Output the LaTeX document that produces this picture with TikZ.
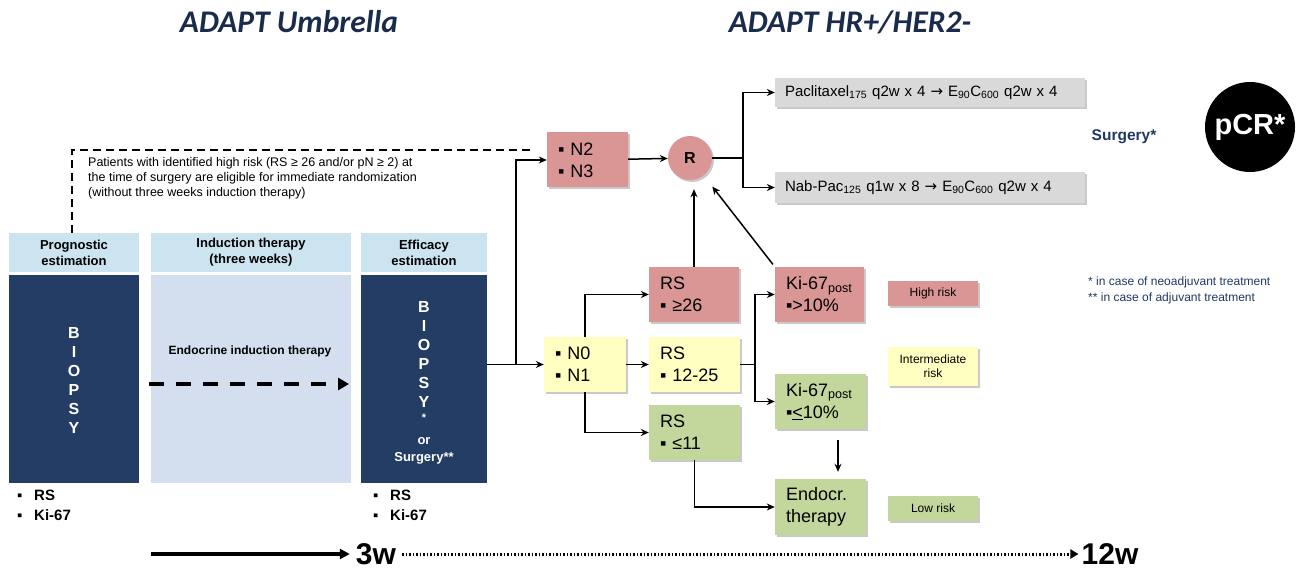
\documentclass[tikz,border=0pt]{standalone}
\usepackage{fontspec}
\setmainfont{Liberation Sans}
\newfontfamily\titlefont{Carlito}
\newfontfamily\symfont{DejaVu Sans}
\usepackage{tikz}
\usetikzlibrary{arrows.meta,shadows}
\definecolor{navybox}{RGB}{36,61,100}
\definecolor{headblue}{RGB}{204,228,240}
\definecolor{indblue}{RGB}{211,223,238}
\definecolor{riskhigh}{RGB}{217,150,148}
\definecolor{riskmid}{RGB}{255,255,194}
\definecolor{risklow}{RGB}{195,214,155}
\definecolor{armgray}{RGB}{217,217,217}
\definecolor{titlenavy}{RGB}{27,43,75}
\definecolor{textnavy}{RGB}{31,56,100}
\tikzset{
  boxshadow/.style = {drop shadow={shadow xshift=2pt, shadow yshift=-2pt,
                      opacity=0.3, fill=black!70}},
  flowbox/.style   = {shape=rectangle, align=left, text width=68pt,
                      inner xsep=11pt, inner ysep=0pt, minimum height=55pt,
                      font=\fontsize{18}{22}\selectfont, boxshadow},
  highbox/.style   = {flowbox, fill=riskhigh},
  midbox/.style    = {flowbox, fill=riskmid},
  lowbox/.style    = {flowbox, fill=risklow},
  armbox/.style    = {flowbox, fill=armgray, text width=290pt, inner xsep=10pt,
                      font=\fontsize{15}{18}\selectfont},
  legend/.style    = {shape=rectangle, align=center, minimum width=90pt,
                      minimum height=25pt, inner sep=0pt,
                      font=\fontsize{12}{14}\selectfont, boxshadow},
  headbox/.style   = {shape=rectangle, fill=headblue, align=center,
                      minimum height=39pt, inner sep=0pt,
                      font=\bfseries\fontsize{13}{16}\selectfont},
  phasebox/.style  = {shape=rectangle, minimum height=208pt, inner sep=0pt},
  letters/.style   = {align=center, text=white, inner sep=0pt,
                      font=\bfseries\fontsize{16}{19}\selectfont},
  smallwhite/.style= {text=white, inner sep=0pt,
                      font=\bfseries\fontsize{13}{15}\selectfont},
  marks/.style     = {align=left, inner sep=0pt, anchor=west,
                      font=\bfseries\fontsize{15}{20}\selectfont},
  title/.style     = {text=titlenavy, font=\titlefont\bfseries\itshape\fontsize{31.5}{36}\selectfont},
  weeks/.style     = {inner sep=0pt, font=\bfseries\fontsize{30}{34}\selectfont},
  link/.style      = {-{Stealth[length=8pt,width=7pt]}, line width=1.5pt},
  wire/.style      = {line width=1.5pt},
  fastlane/.style  = {line width=1.6pt, dash pattern=on 8pt off 5pt},
  indarrow/.style  = {-{Triangle[length=11pt,width=12pt]}, line width=4pt,
                      dash pattern=on 15pt off 12pt},
  timeline/.style  = {-{Triangle[length=10pt,width=10pt]}, line width=4pt},
  dotline/.style   = {-{Triangle[length=8pt,width=9pt]}, line width=3pt,
                      dash pattern=on 1.5pt off 2pt}
}
\begin{document}
\begin{tikzpicture}[x=1pt, y=-1pt]
  \useasboundingbox (0,0) rectangle (1303,572);

  \node[title] (umbrella) at (289,22) {ADAPT Umbrella};
  \node[title] (hrher) at (850,22) {ADAPT HR+/HER2-};

  \node[headbox, minimum width=130pt] (proghead) at (74,252.5) {Prognostic\\estimation};
  \node[headbox, minimum width=200pt] (indhead) at (251,252.5) {Induction therapy\\(three weeks)};
  \node[headbox, minimum width=126pt] (effhead) at (424,252.5) {Efficacy\\estimation};
  \node[phasebox, fill=navybox, minimum width=130pt] (progbody) at (74,379) {};
  \node[phasebox, fill=indblue, minimum width=200pt] (indbody) at (251,379) {};
  \node[phasebox, fill=navybox, minimum width=126pt] (effbody) at (424,379) {};

  \node[letters] (progletters) at (74,380) {B\\I\\O\\P\\S\\Y};
  \node[letters] (effletters) at (424,354) {B\\I\\O\\P\\S\\Y};
  \node[smallwhite, font=\bfseries\fontsize{11}{13}\selectfont] (effstar) at (424,418) {*};
  \node[smallwhite, anchor=base] (effor) at (424,444) {or};
  \node[smallwhite, anchor=base] (effsurg) at (424,461) {Surgery**};

  \node[font=\bfseries\fontsize{12}{14}\selectfont] (indtext) at (250,351) {Endocrine induction therapy};
  \coordinate (indstart) at (149,384);
  \coordinate (indend) at (349,384);
  \draw[indarrow] (indstart) -- (indend);

  \node[marks] (progmarks) at (17,505) {\makebox[17pt][l]{▪}RS\\\makebox[17pt][l]{▪}Ki-67};
  \node[marks] (effmarks) at (373,505) {\makebox[17pt][l]{▪}RS\\\makebox[17pt][l]{▪}Ki-67};

  \node[anchor=west, align=left, inner sep=0pt, font=\fontsize{12.5}{15}\selectfont] (eligible) at (88,178)
    {Patients with identified high risk (RS ≥ 26 and/or pN ≥ 2) at\\
     the time of surgery are eligible for immediate randomization\\
     (without three weeks induction therapy)};

  \node[highbox, text width=59pt] (n2) at (587.5,160) {▪ N2\\▪ N3};
  \node[circle, fill=riskhigh, minimum size=44pt, inner sep=0pt, boxshadow,
        font=\bfseries\fontsize{16}{18}\selectfont] (r) at (690,158) {R};
  \node[armbox, minimum height=29pt] (pac) at (930,92.5)
    {Paclitaxel\textsubscript{175} q2w x 4 {\symfont →} E\textsubscript{90}C\textsubscript{600} q2w x 4};
  \node[armbox, minimum height=31pt] (nab) at (930,187.5)
    {Nab-Pac\textsubscript{125} q1w x 8 {\symfont →} E\textsubscript{90}C\textsubscript{600} q2w x 4};
  \node[text=textnavy, font=\bfseries\fontsize{15.5}{18}\selectfont] (surgery) at (1124,137) {Surgery*};
  \node[circle, fill=black, text=white, minimum size=90pt, inner sep=0pt,
        font=\bfseries\fontsize{29}{32}\selectfont] (pcr) at (1250,127) {pCR*};
  \node[anchor=west, align=left, inner sep=0pt, text=textnavy,
        font=\fontsize{12}{16}\selectfont] (footnotes) at (1088,290)
    {* in case of neoadjuvant treatment\\** in case of adjuvant treatment};

  \node[midbox, text width=60pt] (n0) at (585,364.5) {▪ N0\\▪ N1};
  \node[highbox] (rs26) at (694,294.5) {RS\\▪ ≥26};
  \node[midbox, text width=69pt] (rs12) at (694.5,364.5) {RS\\▪ 12-25};
  \node[lowbox, text width=69pt] (rs11) at (694.5,432.5) {RS\\▪ ≤11};
  \node[highbox, text width=67pt] (kihi) at (819.5,294.5) {Ki-67\textsubscript{post}\\▪>10\%};
  \node[lowbox, text width=69pt] (kilo) at (820.5,401.5) {Ki-67\textsubscript{post}\\▪\underline{<}10\%};
  \node[lowbox, text width=69pt, minimum height=56pt] (endo) at (820.5,507) {Endocr.\\therapy};

  \node[legend, fill=riskhigh] (lghigh) at (933,293.5) {High risk};
  \node[legend, fill=riskmid, minimum height=39pt] (lgmid) at (933,366.5) {Intermediate\\risk};
  \node[legend, fill=risklow] (lglow) at (933,508.5) {Low risk};

  \coordinate (corner) at (72,150);
  \draw[fastlane, shorten >=12pt] (proghead.north -| corner) -- (corner) -- (n2.west |- corner);

  \coordinate (split) at (516,364.5);
  \draw[link] (effbody.east |- split) -- (n0);
  \draw[link] (split) |- (n2.west);
  \draw[link] (n2) -- (r);
  \coordinate (fork) at (743,158);
  \draw[wire] (r) -- (fork);
  \draw[link] (fork) |- (pac.west);
  \draw[link] (fork) |- (nab.west);

  \draw[link] (n0.north) |- (rs26.west);
  \draw[link] (n0) -- (rs12);
  \draw[link] (n0.south) |- (rs11.west);
  \draw[link, shorten >=9pt] (rs26.north) -- (rs26.north |- r.south);
  \draw[link, shorten >=14pt, shorten <=3pt] (kihi.north west) -- (r);
  \coordinate (fork2) at (755,364.5);
  \draw[wire] (rs12) -- (fork2);
  \draw[link] (fork2) |- (kihi.west);
  \draw[link] (fork2) |- (kilo.west);
  \draw[link, shorten <=11pt, shorten >=7pt] ([xshift=17.5pt]kilo.south) -- ([xshift=17.5pt]endo.north);
  \draw[link] (rs11.south) |- (endo.west);

  \coordinate (t0) at (151,554);
  \node[weeks] (w3) at (376,554) {3w};
  \node[weeks] (w12) at (1110,554) {12w};
  \draw[timeline] (t0) -- ([xshift=-6pt]w3.west);
  \draw[dotline] ([xshift=6pt]w3.east) -- ([xshift=-3pt]w12.west);
\end{tikzpicture}
\end{document}
